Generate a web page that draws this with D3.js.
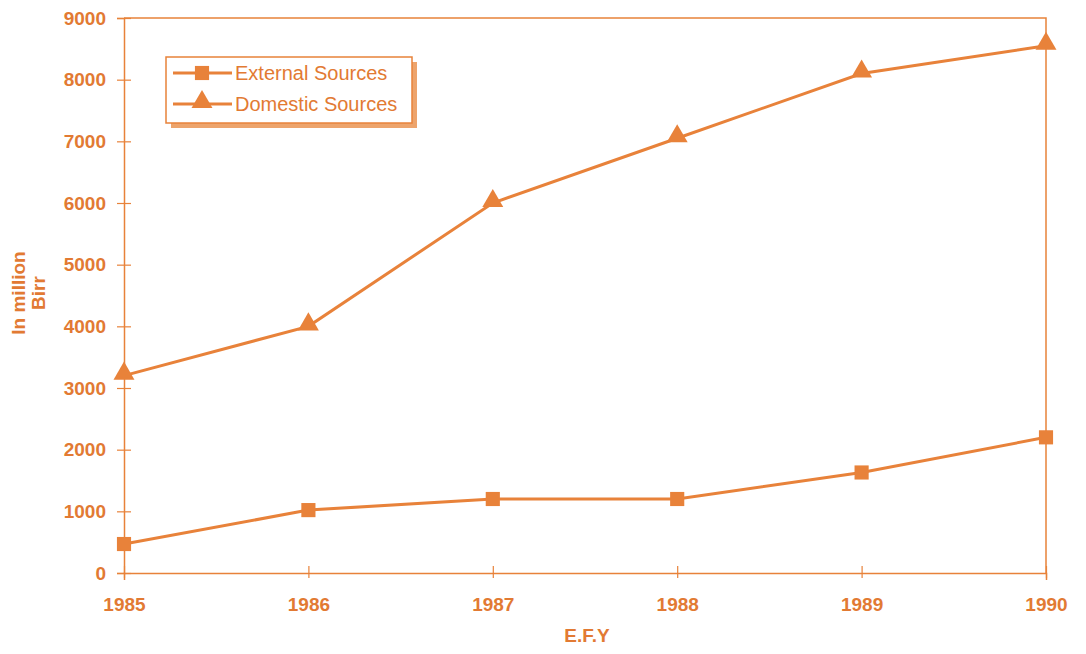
<!DOCTYPE html>
<html><head><meta charset="utf-8">
<script src="https://cdn.jsdelivr.net/npm/d3@7"></script>
<style>body{margin:0;background:#fff}svg{display:block}</style>
</head><body>
<svg id="c" width="1086" height="654"></svg>
<script>
const years = [1985, 1986, 1987, 1988, 1989, 1990];
const external = [470, 1020, 1200, 1200, 1630, 2200];
const domestic = [3200, 4000, 6000, 7050, 8100, 8550];
const yTicks = [0, 1000, 2000, 3000, 4000, 5000, 6000, 7000, 8000, 9000];

const col = "#e8823a", txt = "#e27a33";
const svg = d3.select("#c");
const m = {l:124, r:1046, t:18, b:573};
const x = d3.scaleLinear().domain([1985,1990]).range([m.l, m.r]);
const y = d3.scaleLinear().domain([0,9000]).range([m.b, m.t]);
const font = "'Liberation Sans', Arial, sans-serif";

// frame top & right
svg.append("path").attr("d", `M${m.l},${m.t}H${m.r}V${m.b}`).attr("fill","none").attr("stroke",col).attr("stroke-width",1.5);

// y axis
const ya = svg.append("g").attr("transform",`translate(${m.l},0)`)
  .call(d3.axisLeft(y).tickValues(yTicks).tickSize(7).tickPadding(10).tickFormat(d3.format("d")));
ya.select(".domain").attr("stroke",col).attr("stroke-width",1.5);
ya.selectAll(".tick line").attr("stroke",col).attr("stroke-width",1.2).attr("x2",7).attr("x1",-7);
ya.selectAll("text").attr("fill",txt).attr("font-family",font).attr("font-size",19).attr("font-weight","bold").attr("x",-18);

// x axis
const xa = svg.append("g").attr("transform",`translate(0,${m.b})`)
  .call(d3.axisBottom(x).tickValues(years).tickSize(7).tickPadding(18).tickFormat(d3.format("d")));
xa.select(".domain").attr("stroke",col).attr("stroke-width",1.5);
xa.selectAll(".tick line").attr("stroke",col).attr("stroke-width",1.2).attr("y1",-7).attr("y2",5);
xa.selectAll("text").attr("fill",txt).attr("font-family",font).attr("font-size",19).attr("font-weight","bold");

// axis titles
svg.append("text").attr("x",587).attr("y",642).attr("text-anchor","middle")
  .attr("fill",txt).attr("font-family",font).attr("font-size",19).attr("font-weight","bold").text("E.F.Y");
const yt = svg.append("text").attr("transform","translate(25,293) rotate(-90)").attr("text-anchor","middle")
  .attr("fill",txt).attr("font-family",font).attr("font-size",19).attr("font-weight","bold");
yt.append("tspan").attr("x",0).attr("dy",0).text("In million");
yt.append("tspan").attr("x",0).attr("dy",20).text("Birr");

// lines
const line = d3.line().x((d,i)=>x(years[i])).y(d=>y(d));
[external, domestic].forEach(s=>{
  svg.append("path").datum(s).attr("d",line).attr("fill","none").attr("stroke",col).attr("stroke-width",3);
});
const sq = d3.symbol().type(d3.symbolSquare).size(200);
const tri = d3.symbol().type(d3.symbolTriangle).size(190);
svg.append("g").selectAll("path").data(external).join("path")
  .attr("transform",(d,i)=>`translate(${x(years[i])},${y(d)})`).attr("d",sq).attr("fill",col);
svg.append("g").selectAll("path").data(domestic).join("path")
  .attr("transform",(d,i)=>`translate(${x(years[i])},${y(d)-2})`).attr("d",tri).attr("fill",col);

// legend
const lg = svg.append("g").attr("transform","translate(166,57)");
lg.append("rect").attr("x",5).attr("y",5).attr("width",246).attr("height",66).attr("fill","#eda46c");
lg.append("rect").attr("x",0).attr("y",0).attr("width",246).attr("height",66).attr("fill","#fff").attr("stroke",col).attr("stroke-width",1.5);
const items = [{n:"External Sources", s:sq, dy:0}, {n:"Domestic Sources", s:tri, dy:-2}];
items.forEach((it,i)=>{
  const yy = 16 + i*31;
  lg.append("line").attr("x1",7).attr("x2",66).attr("y1",yy).attr("y2",yy).attr("stroke",col).attr("stroke-width",3);
  lg.append("path").attr("d",it.s).attr("transform",`translate(36,${yy+it.dy})`).attr("fill",col);
  lg.append("text").attr("x",69).attr("y",yy+7).attr("fill",txt).attr("font-family",font).attr("font-size",20).text(it.n);
});
</script>
</body></html>
